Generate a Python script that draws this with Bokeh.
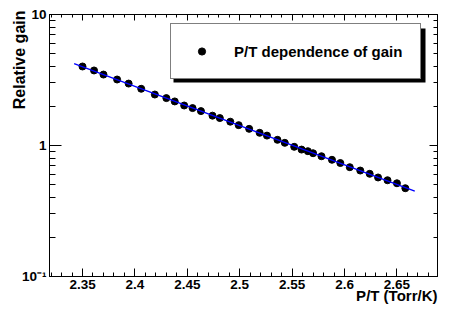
import numpy as np
from bokeh.plotting import figure
from bokeh.models import (Range1d, FixedTicker, LinearAxis, LogAxis, Title,
                          Legend, LegendItem, BoxAnnotation,
                          CustomJSTickFormatter)
from bokeh.embed import file_html
from bokeh.resources import INLINE

# ---- data ----
pt_ratio = [2.350, 2.361, 2.370, 2.383, 2.394, 2.406, 2.419, 2.430, 2.438,
            2.447, 2.455, 2.463, 2.474, 2.481, 2.491, 2.499, 2.509, 2.519,
            2.526, 2.536, 2.543, 2.552, 2.559, 2.565, 2.570, 2.578, 2.588,
            2.596, 2.605, 2.615, 2.624, 2.632, 2.641, 2.650, 2.658]
rel_gain = [4.01, 3.74, 3.48, 3.19, 2.97, 2.71, 2.45, 2.30, 2.17,
            2.02, 1.93, 1.83, 1.69, 1.62, 1.52, 1.43, 1.34, 1.25,
            1.19, 1.105, 1.048, 0.977, 0.931, 0.905, 0.873, 0.828, 0.778,
            0.735, 0.683, 0.644, 0.608, 0.570, 0.543, 0.515, 0.472]
fit_range = [2.342, 2.667]

x_major = [2.35, 2.4, 2.45, 2.5, 2.55, 2.6, 2.65]
x_labels = ["2.35", "2.4", "2.45", "2.5", "2.55", "2.6", "2.65"]
y_major = [0.1, 1, 10]
y_labels = ["10\u207b\u00b9", "1", "10"]
legend_text = "P/T dependence of gain"
x_title = "P/T (Torr/K)"
y_title = "Relative gain"

FONT = "Liberation Sans"

x_minor = [round(v, 2) for v in np.arange(2.32, 2.685, 0.01)]
y_minor = [m * 10.0 ** e for e in (-1, 0) for m in range(2, 10)]

p = figure(width=463, height=309,
           x_range=Range1d(2.3185, 2.6887), y_range=Range1d(0.1, 10),
           y_axis_type="log", output_backend="svg", toolbar_location=None,
           min_border_left=49, min_border_right=26, min_border_top=14,
           min_border_bottom=33)
p.xgrid.visible = False
p.ygrid.visible = False
p.outline_line_color = "black"
p.outline_line_width = 1
p.background_fill_color = "white"
p.border_fill_color = "white"

xt = FixedTicker(ticks=x_major, minor_ticks=x_minor)
yt = FixedTicker(ticks=y_major, minor_ticks=y_minor)


def style(ax, ticker, maj, mnr, labels):
    ax.ticker = ticker
    ax.axis_line_color = "black"
    ax.axis_line_width = 1
    ax.major_tick_line_color = "black"
    ax.minor_tick_line_color = "black"
    ax.major_tick_in = maj
    ax.major_tick_out = 0
    ax.minor_tick_in = mnr
    ax.minor_tick_out = 0
    if labels is None:
        ax.formatter = CustomJSTickFormatter(code="return ''")
        ax.major_label_standoff = 0
    else:
        ax.major_label_overrides = labels
        ax.major_label_text_font = FONT
        ax.major_label_text_font_style = "bold"
        ax.major_label_text_font_size = "13.5px"
        ax.major_label_text_color = "black"


style(p.xaxis[0], xt, 8, 4, dict(zip(x_major, x_labels)))
p.xaxis[0].major_label_standoff = 3
style(p.yaxis[0], yt, 12, 6, dict(zip(y_major, y_labels)))
p.yaxis[0].major_label_standoff = 3

top_ax = LinearAxis()
style(top_ax, xt, 6, 3, None)
p.add_layout(top_ax, "above")
right_ax = LogAxis()
style(right_ax, yt, 8, 4, None)
p.add_layout(right_ax, "right")

pts = p.scatter(pt_ratio, rel_gain, size=7, color="black")

coef = np.polyfit(pt_ratio, np.log10(rel_gain), 1)
fx = np.array(fit_range)
fy = 10 ** np.polyval(coef, fx)
p.line(fx, fy, line_color="#0000ff", line_width=1.4)

# legend with shadow
shadow = BoxAnnotation(left=124, right=376, bottom=194, top=248,
                       left_units="screen", right_units="screen",
                       bottom_units="screen", top_units="screen",
                       fill_color="black", fill_alpha=1, line_color=None)
p.add_layout(shadow)
legend = Legend(items=[LegendItem(label=legend_text, renderers=[pts])],
                location=(121, 197), padding=18, glyph_width=25,
                glyph_height=18, label_standoff=20, label_height=18,
                margin=0, spacing=0, border_line_color="black",
                border_line_width=1, background_fill_color="white",
                background_fill_alpha=1, label_text_font=FONT,
                label_text_font_style="bold", label_text_font_size="15px",
                label_text_color="black")
p.add_layout(legend)

p.add_layout(Title(text=y_title, align="right", vertical_align="bottom",
                   standoff=-18, offset=-4, text_font=FONT,
                   text_font_style="bold", text_font_size="16px",
                   text_color="black"), "left")
p.add_layout(Title(text=x_title, align="right", vertical_align="top",
                   standoff=-9, offset=0, text_font=FONT,
                   text_font_style="bold", text_font_size="15px",
                   text_color="black"), "below")

open("out.html", "w").write(file_html(p, INLINE))
